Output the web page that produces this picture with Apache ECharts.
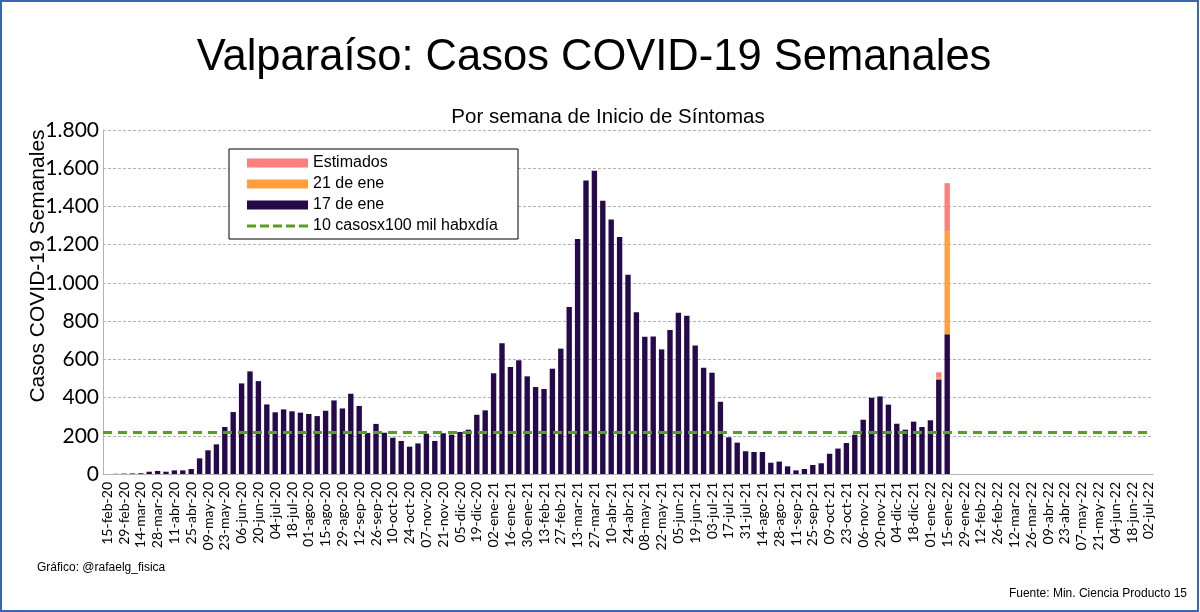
<!DOCTYPE html>
<html>
<head>
<meta charset="utf-8">
<title>Valparaíso: Casos COVID-19 Semanales</title>
<script src="https://cdn.jsdelivr.net/npm/echarts@6/dist/echarts.min.js"></script>
<style>
  html, body { margin: 0; padding: 0; background: #fff; }
  #chart { width: 1200px; height: 612px; }
</style>
</head>
<body>
<div id="chart"></div>
<script>
// semanas (inicio de síntomas)
var semanas = [
  '15-feb-20','22-feb-20','29-feb-20','07-mar-20','14-mar-20','21-mar-20','28-mar-20','04-abr-20','11-abr-20','18-abr-20',
  '25-abr-20','02-may-20','09-may-20','16-may-20','23-may-20','30-may-20','06-jun-20','13-jun-20','20-jun-20','27-jun-20',
  '04-jul-20','11-jul-20','18-jul-20','25-jul-20','01-ago-20','08-ago-20','15-ago-20','22-ago-20','29-ago-20','05-sep-20',
  '12-sep-20','19-sep-20','26-sep-20','03-oct-20','10-oct-20','17-oct-20','24-oct-20','31-oct-20','07-nov-20','14-nov-20',
  '21-nov-20','28-nov-20','05-dic-20','12-dic-20','19-dic-20','26-dic-20',
  '02-ene-21','09-ene-21','16-ene-21','23-ene-21','30-ene-21','06-feb-21','13-feb-21','20-feb-21','27-feb-21','06-mar-21',
  '13-mar-21','20-mar-21','27-mar-21','03-abr-21','10-abr-21','17-abr-21','24-abr-21','01-may-21','08-may-21','15-may-21',
  '22-may-21','29-may-21','05-jun-21','12-jun-21','19-jun-21','26-jun-21','03-jul-21','10-jul-21','17-jul-21','24-jul-21',
  '31-jul-21','07-ago-21','14-ago-21','21-ago-21','28-ago-21','04-sep-21','11-sep-21','18-sep-21','25-sep-21','02-oct-21',
  '09-oct-21','16-oct-21','23-oct-21','30-oct-21','06-nov-21','13-nov-21','20-nov-21','27-nov-21','04-dic-21','11-dic-21',
  '18-dic-21','25-dic-21',
  '01-ene-22','08-ene-22','15-ene-22','22-ene-22','29-ene-22','05-feb-22','12-feb-22','19-feb-22','26-feb-22','05-mar-22',
  '12-mar-22','19-mar-22','26-mar-22','02-abr-22','09-abr-22','16-abr-22','23-abr-22','30-abr-22','07-may-22','14-may-22',
  '21-may-22','28-may-22','04-jun-22','11-jun-22','18-jun-22','25-jun-22','02-jul-22'
];

// casos reportados al 17 de ene
var casos17ene = [
  null, 1, 2, 3, 4, 12, 16, 12, 19, 19,
  26, 82, 124, 155, 246, 324, 474, 537, 486, 364,
  323, 338, 328, 321, 314, 303, 331, 385, 343, 420,
  356, 215, 262, 216, 190, 173, 143, 160, 211, 173,
  213, 206, 220, 232, 310, 333, 527, 684, 560, 595,
  511, 455, 445, 551, 656, 874, 1229, 1536, 1587, 1430,
  1332, 1240, 1043, 847, 718, 720, 652, 753, 844, 828,
  673, 556, 530, 378, 192, 164, 119, 115, 115, 59,
  65, 40, 19, 26, 47, 56, 106, 133, 162, 206,
  284, 399, 406, 363, 263, 232, 274, 246, 281, 495,
  731
];
// incremento informado el 21 de ene (solo ultimas semanas)
var semanasRecientes = ['08-ene-22', '15-ene-22'];
var incremento21ene = [10, 537];
var incrementoEstimado = [27, 254];

// umbral 10 casos x 100 mil hab x dia
var umbral = 221;

var yTicks = [0, 200, 400, 600, 800, 1000, 1200, 1400, 1600, 1800];

function porSemana(vals) {
  var out = semanas.map(function () { return null; });
  semanasRecientes.forEach(function (s, i) {
    out[semanas.indexOf(s)] = vals[i];
  });
  return out;
}

function miles(v) {
  return String(v).replace(/\B(?=(\d{3})+(?!\d))/g, '.');
}

// icono de linea segmentada para la leyenda
var iconoSegmentado = 'path://M0,0h0.05v0.05h-0.05z M60.95,8.95h0.05v0.05h-0.05z ' +
  'M0,3h9v3h-9z M13,3h9v3h-9z M26,3h9v3h-9z M39,3h9v3h-9z M52,3h9v3h-9z';

var chart = echarts.init(document.getElementById('chart'));
var option = {
  backgroundColor: '#fff',
  animation: false,
  title: [
    {
      text: 'Valparaíso: Casos COVID-19 Semanales',
      left: 589, top: 31, textAlign: 'center',
      textStyle: { fontFamily: 'Liberation Sans', fontSize: 43.5, fontWeight: 'normal', color: '#000' }
    },
    {
      text: 'Por semana de Inicio de Síntomas',
      left: 603, top: 102, textAlign: 'center',
      textStyle: { fontFamily: 'Liberation Sans', fontSize: 20.5, fontWeight: 'normal', color: '#000' }
    }
  ],
  legend: {
    left: 229, top: 149,
    orient: 'vertical',
    backgroundColor: '#fff',
    borderColor: '#000',
    borderWidth: 1,
    borderRadius: 0,
    padding: [6, 20, 5, 18],
    itemGap: 5,
    itemWidth: 61,
    itemHeight: 9,
    textStyle: { fontFamily: 'Liberation Sans', fontSize: 16, color: '#000' },
    data: [
      { name: 'Estimados', icon: 'rect' },
      { name: '21 de ene', icon: 'rect' },
      { name: '17 de ene', icon: 'rect' },
      { name: '10 casosx100 mil habxdía', icon: iconoSegmentado }
    ]
  },
  grid: { left: 103, right: 47, top: 130, bottom: 138 },
  xAxis: {
    type: 'category',
    data: semanas,
    axisLine: { lineStyle: { color: '#b3b3b3' } },
    axisTick: { show: false },
    axisLabel: {
      interval: 1, rotate: 90, margin: 8,
      fontFamily: 'Lato', fontSize: 14, color: '#000'
    }
  },
  yAxis: {
    type: 'value',
    min: yTicks[0], max: yTicks[yTicks.length - 1], interval: 200,
    axisLine: { show: true, lineStyle: { color: '#b3b3b3' } },
    axisTick: { show: false },
    splitLine: { lineStyle: { color: '#b3b3b3', type: [3, 2] } },
    axisLabel: {
      margin: 4, fontFamily: 'Lato', fontSize: 21, color: '#000',
      formatter: function (v) { return miles(v); }
    }
  },
  series: [
    {
      name: '17 de ene', type: 'bar', stack: 'casos', barWidth: '64%',
      itemStyle: { color: '#26094a' },
      data: casos17ene
    },
    {
      name: '21 de ene', type: 'bar', stack: 'casos',
      itemStyle: { color: '#ffa03c' },
      data: porSemana(incremento21ene)
    },
    {
      name: 'Estimados', type: 'bar', stack: 'casos',
      itemStyle: { color: '#ff7f7f' },
      data: porSemana(incrementoEstimado)
    },
    {
      name: '10 casosx100 mil habxdía', type: 'line', symbol: 'none',
      lineStyle: { color: '#5a9e1e', width: 3, type: [9, 6] },
      itemStyle: { color: '#5a9e1e' },
      data: [],
      markLine: {
        silent: true, symbol: 'none',
        label: { show: false },
        lineStyle: { color: '#5a9e1e', width: 3, type: [9, 6] },
        data: [{ yAxis: umbral }]
      }
    }
  ],
  graphic: [
    {
      type: 'text', x: 38, y: 266, rotation: Math.PI / 2,
      style: {
        text: 'Casos COVID-19 Semanales', fontFamily: 'Liberation Sans', fontSize: 21,
        fill: '#000', align: 'center', verticalAlign: 'middle'
      }
    },
    {
      type: 'text', left: 37, top: 562,
      style: { text: 'Gráfico: @rafaelg_fisica', fontFamily: 'Liberation Sans', fontSize: 12, fill: '#000' }
    },
    {
      type: 'text', right: 13, top: 588,
      style: { text: 'Fuente: Min. Ciencia Producto 15', fontFamily: 'Liberation Sans', fontSize: 12, fill: '#000' }
    },
    {
      type: 'rect', shape: { x: 1, y: 1, width: 1197, height: 610 },
      style: { fill: 'none', stroke: '#3a66b5', lineWidth: 2 }, silent: true
    }
  ]
};
chart.setOption(option);
</script>
</body>
</html>
